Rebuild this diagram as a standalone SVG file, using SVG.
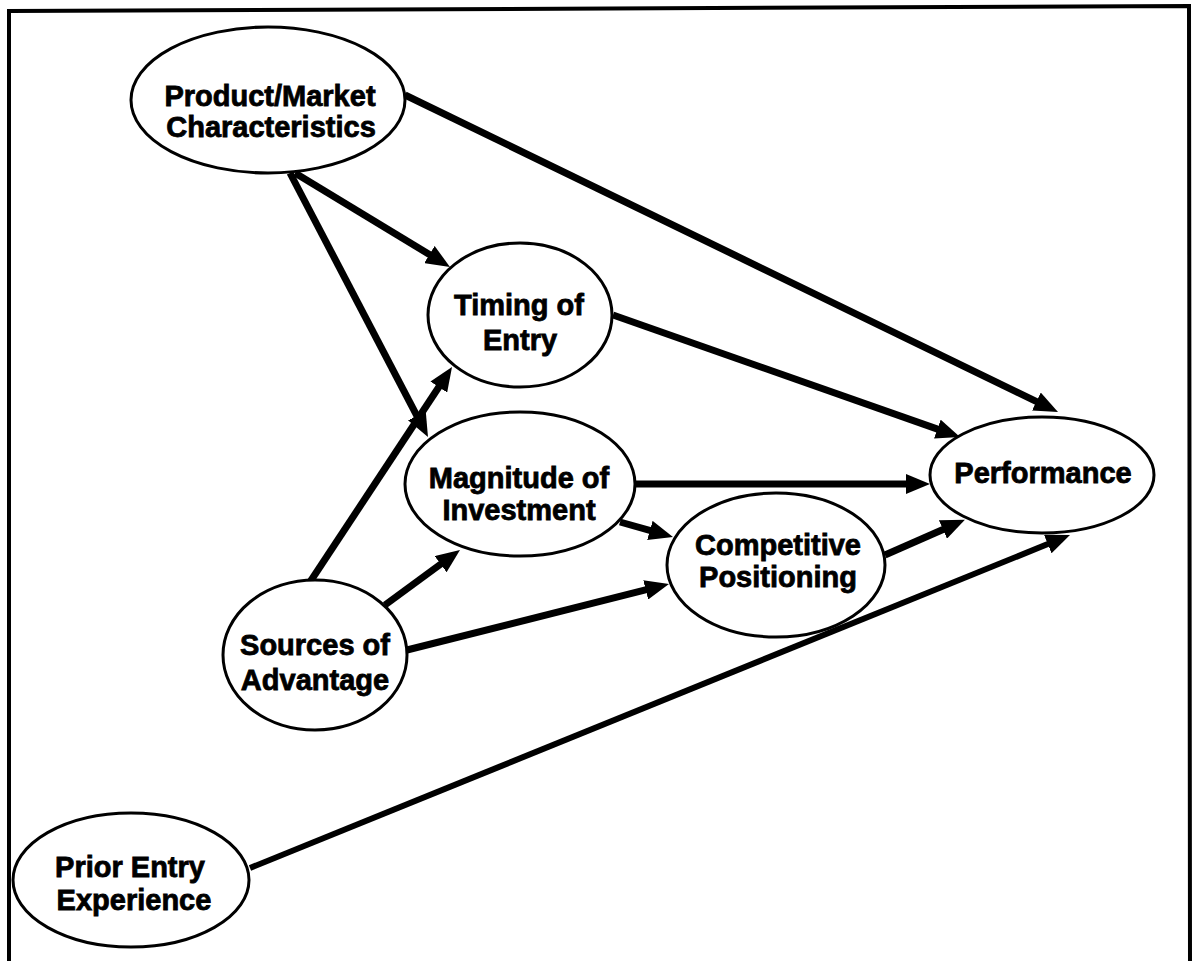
<svg xmlns="http://www.w3.org/2000/svg" width="1194" height="961" viewBox="0 0 1194 961">
<style>
.node ellipse{fill:#fff;stroke:#000;stroke-width:3}
.node text{font-family:"Liberation Sans",Arial,sans-serif;font-weight:bold;font-size:29px;fill:#000;stroke:#000;stroke-width:0.8;text-anchor:middle}
.edge{stroke:#000;stroke-width:7;fill:none;marker-end:url(#ah)}
</style>
<defs>
<marker id="ah" viewBox="0 0 24 20" refX="10" refY="10" markerWidth="24" markerHeight="20" markerUnits="userSpaceOnUse" orient="auto">
<path d="M0,0 L24,10 L0,20 z" fill="#000"/>
</marker>
</defs>
<rect x="0" y="0" width="1194" height="961" fill="#fff"/>
<path d="M9,961 L9,11 L1189,6 L1190,961" fill="none" stroke="#000" stroke-width="4"/>
<g id="connectors">
<line class="edge" x1="405" y1="95" x2="1045.4" y2="405.9"/>
<line class="edge" x1="295" y1="173" x2="438" y2="259.7"/>
<line class="edge" x1="290" y1="173" x2="421.5" y2="424.6"/>
<line class="edge" x1="613" y1="315" x2="946.8" y2="432.4"/>
<line class="edge" x1="635" y1="484" x2="916" y2="484"/>
<line class="edge" x1="620" y1="522" x2="659.5" y2="533.2"/>
<line class="edge" x1="885" y1="555" x2="952.1" y2="525.5"/>
<line class="edge" x1="310" y1="582" x2="444.3" y2="378.7"/>
<line class="edge" x1="385" y1="605" x2="448.7" y2="558.3"/>
<line class="edge" x1="407" y1="650" x2="655.4" y2="587.4"/>
<line class="edge" style="stroke-width:6" x1="250" y1="868" x2="1057" y2="540.3"/>
</g>
<g id="product-market" class="node">
<ellipse cx="268" cy="100" rx="137" ry="73"/>
<text x="270" y="106">Product/Market</text>
<text x="271" y="137">Characteristics</text>
</g>
<g id="timing" class="node">
<ellipse cx="520" cy="315" rx="92" ry="72"/>
<text x="519" y="315">Timing of</text>
<text x="520" y="350">Entry</text>
</g>
<g id="magnitude" class="node">
<ellipse cx="520" cy="484" rx="115" ry="72"/>
<text x="519" y="488">Magnitude of</text>
<text x="519" y="520">Investment</text>
</g>
<g id="competitive" class="node">
<ellipse cx="776" cy="565" rx="109" ry="72"/>
<text x="778" y="555">Competitive</text>
<text x="778" y="587">Positioning</text>
</g>
<g id="performance" class="node">
<ellipse cx="1042" cy="475" rx="112" ry="58"/>
<text x="1043" y="483">Performance</text>
</g>
<g id="sources" class="node">
<ellipse cx="315" cy="655" rx="92" ry="75"/>
<text x="315" y="655">Sources of</text>
<text x="315" y="690">Advantage</text>
</g>
<g id="prior" class="node">
<ellipse cx="131" cy="880" rx="118" ry="67"/>
<text x="130" y="877">Prior Entry</text>
<text x="134" y="910">Experience</text>
</g>
</svg>
